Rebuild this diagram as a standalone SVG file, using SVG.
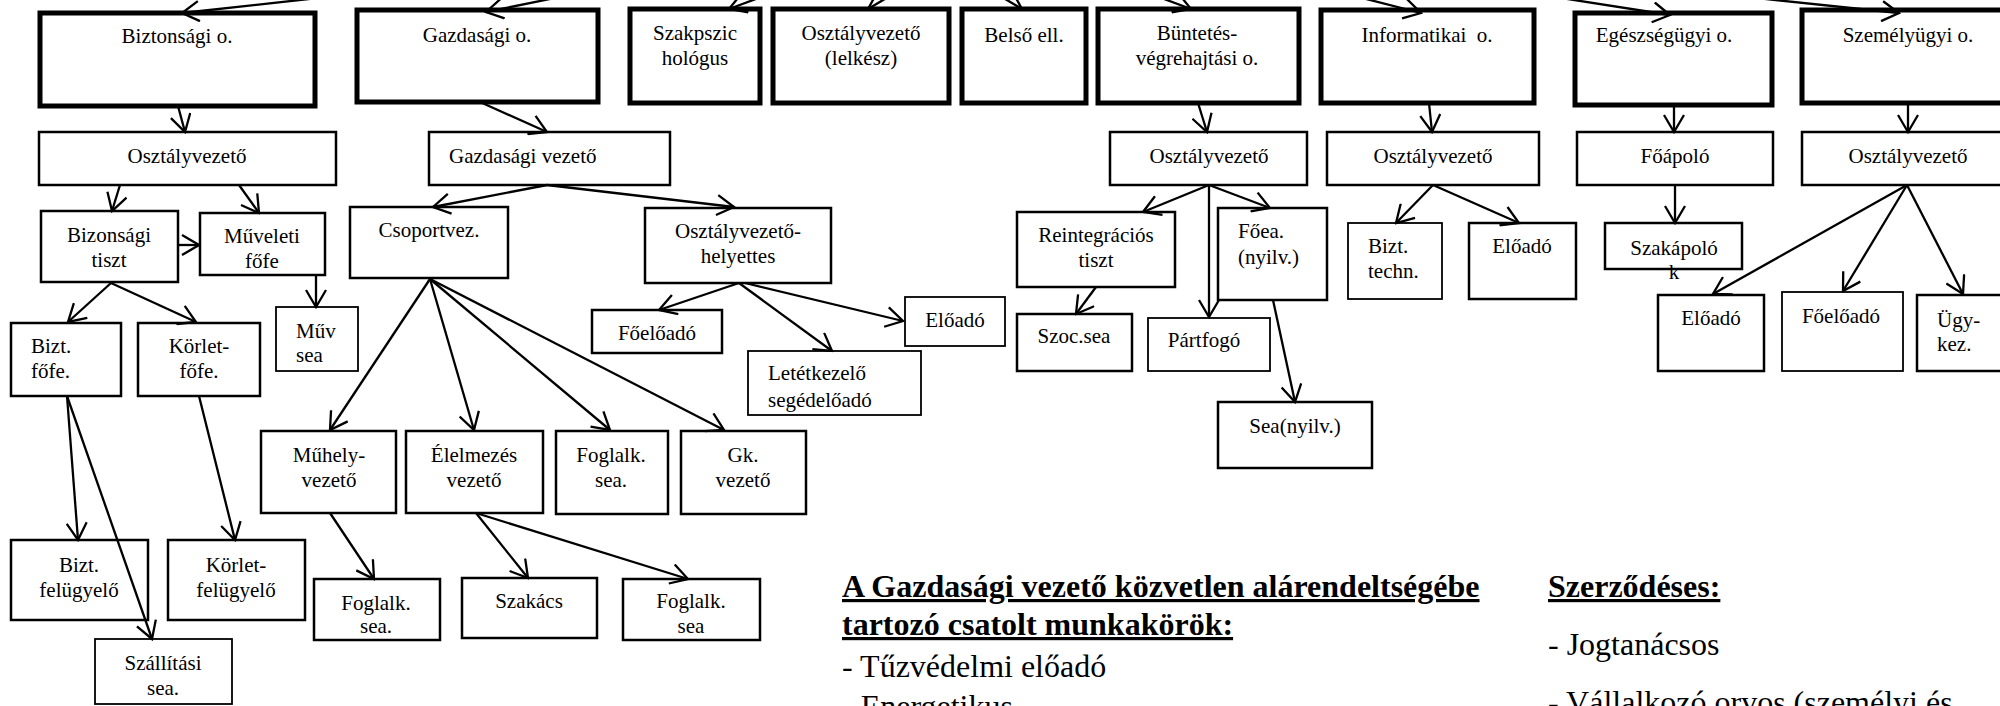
<svg xmlns="http://www.w3.org/2000/svg" width="2000" height="706" viewBox="0 0 2000 706">
<style>
rect{fill:none;stroke:#000}
.b{stroke-width:5}
.n{stroke-width:2.5}
.t{stroke-width:1.8}
text{font-family:"Liberation Serif","Times New Roman",serif;font-size:21px;fill:#000}
.m{text-anchor:middle}
.h{font-size:32px;font-weight:bold;text-decoration:underline}
.p{font-size:32px}
#connectors line{stroke:#000;stroke-width:2.3;marker-end:url(#arr)}
</style>
<defs>
<marker id="arr" markerUnits="userSpaceOnUse" viewBox="0 0 20 22" refX="18" refY="11" markerWidth="20" markerHeight="22" orient="auto">
<path d="M1,1 L18,11 L1,21" fill="none" stroke="#000" stroke-width="2.3"/>
</marker>
</defs>
<rect x="0" y="0" width="2000" height="706" style="fill:#fff;stroke:none"/>
<g id="connectors">
<line x1="391" y1="-10" x2="182" y2="13"/>
<line x1="594" y1="-10" x2="486" y2="12"/>
<line x1="780" y1="-10" x2="729" y2="9"/>
<line x1="900" y1="-10" x2="868" y2="9"/>
<line x1="990" y1="-10" x2="1022" y2="9"/>
<line x1="1140" y1="-10" x2="1191" y2="9"/>
<line x1="1331" y1="-10" x2="1421" y2="13"/>
<line x1="1510" y1="-10" x2="1670" y2="15"/>
<line x1="1680" y1="-10" x2="1899" y2="13"/>
<line x1="178" y1="106" x2="185" y2="132"/>
<line x1="120" y1="185" x2="112" y2="211"/>
<line x1="239" y1="185" x2="259" y2="213"/>
<line x1="178" y1="245" x2="199" y2="245"/>
<line x1="316" y1="276" x2="316" y2="307"/>
<line x1="111" y1="283" x2="68" y2="322"/>
<line x1="111" y1="283" x2="196" y2="322"/>
<line x1="67" y1="396" x2="78" y2="540"/>
<line x1="67" y1="396" x2="152" y2="639"/>
<line x1="199" y1="396" x2="235" y2="540"/>
<line x1="480" y1="102" x2="547" y2="132"/>
<line x1="547" y1="185" x2="433" y2="207"/>
<line x1="547" y1="185" x2="734" y2="207"/>
<line x1="430" y1="279" x2="330" y2="430"/>
<line x1="430" y1="279" x2="474" y2="430"/>
<line x1="430" y1="279" x2="610" y2="430"/>
<line x1="430" y1="279" x2="724" y2="430"/>
<line x1="330" y1="513" x2="374" y2="579"/>
<line x1="476" y1="513" x2="528" y2="578"/>
<line x1="476" y1="513" x2="688" y2="579"/>
<line x1="739" y1="283" x2="659" y2="310"/>
<line x1="739" y1="283" x2="832" y2="351"/>
<line x1="745" y1="283" x2="903" y2="321"/>
<line x1="1198" y1="103" x2="1207" y2="132"/>
<line x1="1209" y1="185" x2="1143" y2="212"/>
<line x1="1209" y1="185" x2="1209" y2="317"/>
<line x1="1209" y1="185" x2="1270" y2="208"/>
<line x1="1096" y1="287" x2="1076" y2="314"/>
<line x1="1273" y1="300" x2="1295" y2="402"/>
<line x1="1429" y1="103" x2="1432" y2="132"/>
<line x1="1433" y1="185" x2="1396" y2="223"/>
<line x1="1433" y1="185" x2="1519" y2="223"/>
<line x1="1674" y1="105" x2="1674" y2="132"/>
<line x1="1675" y1="185" x2="1675" y2="223"/>
<line x1="1908" y1="103" x2="1908" y2="132"/>
<line x1="1907" y1="185" x2="1713" y2="294"/>
<line x1="1907" y1="185" x2="1843" y2="291"/>
<line x1="1907" y1="185" x2="1963" y2="294"/>
</g>
<g id="bizt_o"><rect class="b" x="40" y="13" width="275" height="93"/><text class="m" x="177" y="43">Biztonsági o.</text></g>
<g id="gazd_o"><rect class="b" x="357" y="10" width="241" height="92"/><text class="m" x="477" y="42">Gazdasági o.</text></g>
<g id="szakpszic"><rect class="b" x="630" y="9" width="130" height="94"/><text class="m" x="695" y="40">Szakpszic</text><text class="m" x="695" y="65">hológus</text></g>
<g id="lelkesz"><rect class="b" x="773" y="9" width="176" height="94"/><text class="m" x="861" y="40">Osztályvezető</text><text class="m" x="861" y="65">(lelkész)</text></g>
<g id="belso"><rect class="b" x="962" y="9" width="124" height="94"/><text class="m" x="1024" y="42">Belső ell.</text></g>
<g id="bv_o"><rect class="b" x="1098" y="9" width="201" height="94"/><text class="m" x="1197" y="40">Büntetés-</text><text class="m" x="1197" y="65">végrehajtási o.</text></g>
<g id="inf_o"><rect class="b" x="1321" y="10" width="213" height="93"/><text class="m" x="1427" y="42" xml:space="preserve">Informatikai  o.</text></g>
<g id="eg_o"><rect class="b" x="1575" y="13" width="197" height="92"/><text class="m" x="1664" y="42">Egészségügyi o.</text></g>
<g id="szem_o"><rect class="b" x="1802" y="10" width="210" height="93"/><text class="m" x="1908" y="42">Személyügyi o.</text></g>

<g id="bizt_ov"><rect class="n" x="39" y="132" width="297" height="53"/><text class="m" x="187" y="163">Osztályvezető</text></g>
<g id="gazd_vez"><rect class="n" x="429" y="132" width="241" height="53"/><text x="449" y="163">Gazdasági vezető</text></g>
<g id="bv_ov"><rect class="n" x="1110" y="132" width="197" height="53"/><text class="m" x="1209" y="163">Osztályvezető</text></g>
<g id="inf_ov"><rect class="n" x="1327" y="132" width="212" height="53"/><text class="m" x="1433" y="163">Osztályvezető</text></g>
<g id="foapolo"><rect class="n" x="1577" y="132" width="196" height="53"/><text class="m" x="1675" y="163">Főápoló</text></g>
<g id="szem_ov"><rect class="n" x="1802" y="132" width="210" height="53"/><text class="m" x="1908" y="163">Osztályvezető</text></g>

<g id="bizons_tiszt"><rect class="n" x="41" y="211" width="137" height="71"/><text class="m" x="109" y="242">Bizonsági</text><text class="m" x="109" y="267">tiszt</text></g>
<g id="muveleti"><rect class="n" x="200" y="213" width="125" height="62"/><text class="m" x="262" y="243">Műveleti</text><text class="m" x="262" y="268">főfe</text></g>
<g id="csoportvez"><rect class="n" x="350" y="207" width="158" height="71"/><text class="m" x="429" y="237">Csoportvez.</text></g>
<g id="ov_h"><rect class="n" x="645" y="208" width="186" height="75"/><text class="m" x="738" y="238">Osztályvezető-</text><text class="m" x="738" y="263">helyettes</text></g>
<g id="reint"><rect class="n" x="1017" y="212" width="158" height="75"/><text class="m" x="1096" y="242">Reintegrációs</text><text class="m" x="1096" y="267">tiszt</text></g>
<g id="foea"><rect class="n" x="1218" y="208" width="109" height="92"/><text x="1238" y="238">Főea.</text><text x="1238" y="264">(nyilv.)</text></g>
<g id="bizt_techn"><rect class="t" x="1348" y="223" width="94" height="76"/><text x="1368" y="253">Bizt.</text><text x="1368" y="278">techn.</text></g>
<g id="eloado_inf"><rect class="n" x="1469" y="223" width="107" height="76"/><text class="m" x="1522" y="253">Előadó</text></g>
<g id="szakapolo"><rect class="n" x="1605" y="223" width="137" height="46"/><text class="m" x="1674" y="255">Szakápoló</text><text class="m" x="1674" y="279">k</text></g>

<g id="bizt_fofe"><rect class="n" x="11" y="323" width="110" height="73"/><text x="31" y="353">Bizt.</text><text x="31" y="378">főfe.</text></g>
<g id="korlet_fofe"><rect class="n" x="138" y="323" width="122" height="73"/><text class="m" x="199" y="353">Körlet-</text><text class="m" x="199" y="378">főfe.</text></g>
<g id="muv_sea"><rect class="t" x="276" y="307" width="82" height="64"/><text x="296" y="338">Műv</text><text x="296" y="362">sea</text></g>
<g id="foeloado_g"><rect class="n" x="592" y="310" width="130" height="43"/><text class="m" x="657" y="340">Főelőadó</text></g>
<g id="eloado_g"><rect class="t" x="905" y="297" width="100" height="49"/><text class="m" x="955" y="327">Előadó</text></g>
<g id="letet"><rect class="t" x="748" y="351" width="173" height="64"/><text x="768" y="380">Letétkezelő</text><text x="768" y="407">segédelőadó</text></g>
<g id="szoc"><rect class="n" x="1017" y="314" width="115" height="57"/><text class="m" x="1074" y="343">Szoc.sea</text></g>
<g id="partfogo"><rect class="t" x="1148" y="318" width="122" height="53"/><text class="m" x="1204" y="347">Pártfogó</text></g>
<g id="sea_nyilv"><rect class="n" x="1218" y="402" width="154" height="66"/><text class="m" x="1295" y="433">Sea(nyilv.)</text></g>
<g id="eloado_sz"><rect class="n" x="1658" y="295" width="106" height="76"/><text class="m" x="1711" y="325">Előadó</text></g>
<g id="foeloado_sz"><rect class="t" x="1782" y="292" width="121" height="79"/><text class="m" x="1841" y="323">Főelőadó</text></g>
<g id="ugykez"><rect class="n" x="1917" y="295" width="95" height="76"/><text x="1937" y="327">Ügy-</text><text x="1937" y="351">kez.</text></g>

<g id="muhely"><rect class="n" x="261" y="431" width="135" height="82"/><text class="m" x="329" y="462">Műhely-</text><text class="m" x="329" y="487">vezető</text></g>
<g id="elelmezes"><rect class="n" x="406" y="431" width="137" height="82"/><text class="m" x="474" y="462">Élelmezés</text><text class="m" x="474" y="487">vezető</text></g>
<g id="foglalk1"><rect class="n" x="556" y="431" width="112" height="83"/><text class="m" x="611" y="462">Foglalk.</text><text class="m" x="611" y="487">sea.</text></g>
<g id="gk"><rect class="n" x="681" y="431" width="125" height="83"/><text class="m" x="743" y="462">Gk.</text><text class="m" x="743" y="487">vezető</text></g>

<g id="bizt_felu"><rect class="n" x="11" y="540" width="137" height="80"/><text class="m" x="79" y="572">Bizt.</text><text class="m" x="79" y="597">felügyelő</text></g>
<g id="korlet_felu"><rect class="n" x="168" y="540" width="137" height="80"/><text class="m" x="236" y="572">Körlet-</text><text class="m" x="236" y="597">felügyelő</text></g>
<g id="foglalk_m"><rect class="n" x="314" y="579" width="126" height="61"/><text class="m" x="376" y="610">Foglalk.</text><text class="m" x="376" y="633">sea.</text></g>
<g id="szakacs"><rect class="n" x="462" y="578" width="135" height="60"/><text class="m" x="529" y="608">Szakács</text></g>
<g id="foglalk_e"><rect class="n" x="623" y="579" width="137" height="61"/><text class="m" x="691" y="608">Foglalk.</text><text class="m" x="691" y="633">sea</text></g>
<g id="szallitasi"><rect class="t" x="95" y="639" width="137" height="65"/><text class="m" x="163" y="670">Szállítási</text><text class="m" x="163" y="695">sea.</text></g>

<g id="notes">
<text class="h" x="842" y="597">A Gazdasági vezető közvetlen alárendeltségébe</text>
<text class="h" x="842" y="635">tartozó csatolt munkakörök:</text>
<text class="p" x="842" y="677">- Tűzvédelmi előadó</text>
<text class="p" x="842" y="717">- Energetikus</text>
<text class="h" x="1548" y="597">Szerződéses:</text>
<text class="p" x="1548" y="655">- Jogtanácsos</text>
<text class="p" x="1548" y="713">- Vállalkozó orvos (személyi és</text>
</g>
</svg>
